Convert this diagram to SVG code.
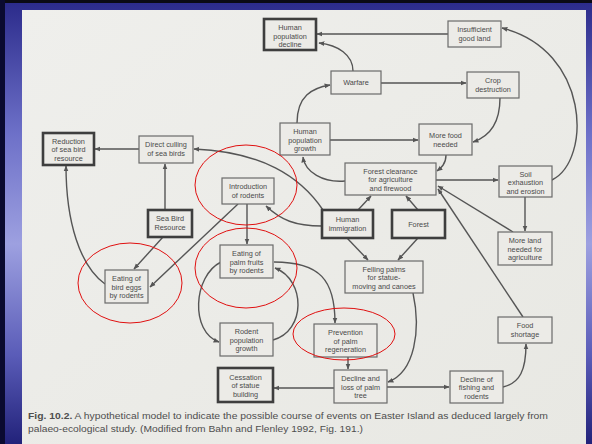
<svg xmlns="http://www.w3.org/2000/svg" width="592" height="444" viewBox="0 0 592 444">
<defs>
<linearGradient id="bg" x1="0" y1="0" x2="0" y2="1">
<stop offset="0" stop-color="#2a2a8a"/>
<stop offset="0.3" stop-color="#6d70c8"/>
<stop offset="0.55" stop-color="#9da0e0"/>
<stop offset="0.8" stop-color="#5a5cb8"/>
<stop offset="1" stop-color="#22227a"/>
</linearGradient>
<linearGradient id="page" x1="0" y1="0" x2="1" y2="1">
<stop offset="0" stop-color="#efefec"/>
<stop offset="1" stop-color="#e8e8e3"/>
</linearGradient>
<marker id="ah" viewBox="0 0 10 10" refX="9" refY="5" markerWidth="6" markerHeight="6" markerUnits="userSpaceOnUse" orient="auto">
<path d="M0,1 L10,5 L0,9 z" fill="#555"/>
</marker>
<style>
.n rect{fill:#ecebe7;stroke:#6a6a6a;stroke-width:1.2}
.n.k rect{stroke:#3e3e3e;stroke-width:2.6}
.n text{font-family:"Liberation Sans",Arial,sans-serif;font-size:7.3px;fill:#4a4a4a;text-anchor:middle}
#edges path{fill:none;stroke:#555;stroke-width:1.4;marker-end:url(#ah)}
.ring{fill:none;stroke:#e01010;stroke-width:1}
.cap{font-family:"Liberation Sans",Arial,sans-serif;font-size:9px;fill:#4e4e4e}
</style>
</defs>
<rect x="0" y="0" width="592" height="444" fill="url(#bg)"/>
<rect x="0" y="0" width="592" height="3" fill="#0a0a14"/>
<rect x="0" y="0" width="5" height="444" fill="#0a0a30"/>
<rect x="22" y="10" width="564" height="434" fill="url(#page)"/>

<g id="edges">
<path d="M448,34 L317,34"/>
<path d="M353,71 C353,55 338,45 319,43"/>
<path d="M381,83 L466,83"/>
<path d="M500,98 C500,124 488,137 473,142"/>
<path d="M297,123 C297,96 312,88 330,85"/>
<path d="M330,140 L418,140"/>
<path d="M446,155 C446,164 441,168 437,171"/>
<path d="M345,181 C323,183 305,172 303,157"/>
<path d="M436,180 L498,180"/>
<path d="M552,180 C592,160 590,50 502,28"/>
<path d="M525,197 L525,231"/>
<path d="M513,232 L438,186"/>
<path d="M523,317 L438,189"/>
<path d="M358,210 L371,196"/>
<path d="M418,210 L406,196"/>
<path d="M347,238 L368,260"/>
<path d="M418,238 L398,260"/>
<path d="M322,226 C295,226 281,220 266,206"/>
<path d="M323,210 C300,176 262,152 194,149"/>
<path d="M139,149 L95,149"/>
<path d="M165,210 L165,164"/>
<path d="M163,237 L134,269"/>
<path d="M238,204 L150,287"/>
<path d="M105,284 C80,266 66,222 66,166"/>
<path d="M247,204 L247,244"/>
<path d="M221,262 C193,276 190,332 219,342"/>
<path d="M273,340 C306,331 306,280 275,268"/>
<path d="M274,262 C320,262 335,280 335,323"/>
<path d="M348,357 L348,369"/>
<path d="M413,293 C421,330 415,372 388,382"/>
<path d="M334,388 L274,388"/>
<path d="M387,387 L449,387"/>
<path d="M503,387 C520,383 526,370 526,344"/>
</g>

<g id="decline" class="n k"><rect x="264" y="19" width="52" height="31"/><text x="290" y="30">Human</text><text x="290" y="38.5">population</text><text x="290" y="47">decline</text></g>
<g id="insufficient" class="n"><rect x="448" y="21" width="53" height="26"/><text x="474.5" y="32">Insufficient</text><text x="474.5" y="41">good land</text></g>
<g id="warfare" class="n"><rect x="331" y="71" width="50" height="23"/><text x="356" y="85">Warfare</text></g>
<g id="crop" class="n"><rect x="467" y="72" width="52" height="26"/><text x="493" y="83">Crop</text><text x="493" y="92">destruction</text></g>
<g id="growth" class="n"><rect x="280" y="123" width="50" height="32"/><text x="305" y="134">Human</text><text x="305" y="142.5">population</text><text x="305" y="151">growth</text></g>
<g id="morefood" class="n"><rect x="419" y="124" width="53" height="31"/><text x="445.5" y="138">More food</text><text x="445.5" y="147">needed</text></g>
<g id="clearance" class="n"><rect x="345" y="163" width="91" height="32"/><text x="390.5" y="173.5">Forest clearance</text><text x="390.5" y="182">for agriculture</text><text x="390.5" y="190.5">and firewood</text></g>
<g id="soil" class="n"><rect x="499" y="166" width="53" height="31"/><text x="525.5" y="176.5">Soil</text><text x="525.5" y="185">exhaustion</text><text x="525.5" y="193.5">and erosion</text></g>
<g id="immigration" class="n k"><rect x="322" y="210" width="51" height="28"/><text x="347.5" y="222">Human</text><text x="347.5" y="231">immigration</text></g>
<g id="forest" class="n k"><rect x="392" y="210" width="53" height="28"/><text x="418.5" y="227">Forest</text></g>
<g id="moreland" class="n"><rect x="498" y="232" width="54" height="33"/><text x="525" y="243">More land</text><text x="525" y="251.5">needed for</text><text x="525" y="260">agriculture</text></g>
<g id="felling" class="n"><rect x="345" y="261" width="78" height="32"/><text x="384" y="271.5">Felling palms</text><text x="384" y="280">for statue-</text><text x="384" y="288.5">moving and canoes</text></g>
<g id="reduction" class="n k"><rect x="43" y="133" width="51" height="32"/><text x="68.5" y="143.5">Reduction</text><text x="68.5" y="152">of sea bird</text><text x="68.5" y="160.5">resource</text></g>
<g id="culling" class="n"><rect x="139" y="136" width="54" height="27"/><text x="166" y="147">Direct culling</text><text x="166" y="156">of sea birds</text></g>
<g id="introduction" class="n"><rect x="222" y="178" width="52" height="26"/><text x="248" y="189">Introduction</text><text x="248" y="198">of rodents</text></g>
<g id="seabird" class="n k"><rect x="148" y="210" width="44" height="27"/><text x="170" y="221">Sea Bird</text><text x="170" y="230">Resource</text></g>
<g id="palmfruits" class="n"><rect x="220" y="245" width="53" height="33"/><text x="246.5" y="256">Eating of</text><text x="246.5" y="264.5">palm fruits</text><text x="246.5" y="273">by rodents</text></g>
<g id="birdeggs" class="n"><rect x="105" y="270" width="43" height="33"/><text x="126.5" y="281">Eating of</text><text x="126.5" y="289.5">bird eggs</text><text x="126.5" y="298">by rodents</text></g>
<g id="rodentgrowth" class="n"><rect x="220" y="323" width="53" height="33"/><text x="246.5" y="334">Rodent</text><text x="246.5" y="342.5">population</text><text x="246.5" y="351">growth</text></g>
<g id="cessation" class="n k"><rect x="218" y="368" width="55" height="34"/><text x="245.5" y="379.5">Cessation</text><text x="245.5" y="388">of statue</text><text x="245.5" y="396.5">building</text></g>
<g id="prevention" class="n"><rect x="314" y="324" width="63" height="33"/><text x="345.5" y="335">Prevention</text><text x="345.5" y="343.5">of palm</text><text x="345.5" y="352">regeneration</text></g>
<g id="declinepalm" class="n"><rect x="334" y="370" width="53" height="33"/><text x="360.5" y="381">Decline and</text><text x="360.5" y="389.5">loss of palm</text><text x="360.5" y="398">tree</text></g>
<g id="declinefish" class="n"><rect x="450" y="371" width="53" height="32"/><text x="476.5" y="381.5">Decline of</text><text x="476.5" y="390">fishing and</text><text x="476.5" y="398.5">rodents</text></g>
<g id="foodshortage" class="n"><rect x="498" y="317" width="54" height="26"/><text x="525" y="328">Food</text><text x="525" y="337">shortage</text></g>

<g id="highlights">
<ellipse class="ring" cx="246" cy="185" rx="51" ry="40"/>
<ellipse class="ring" cx="246" cy="268" rx="51" ry="40"/>
<ellipse class="ring" cx="130" cy="283" rx="52" ry="40"/>
<ellipse class="ring" cx="344" cy="334" rx="51" ry="26"/>
</g>

<text class="cap" x="28" y="419" textLength="520" lengthAdjust="spacingAndGlyphs"><tspan font-weight="bold">Fig. 10.2.</tspan> A hypothetical model to indicate the possible course of events on Easter Island as deduced largely from</text>
<text class="cap" x="28" y="432" textLength="335" lengthAdjust="spacingAndGlyphs">palaeo-ecological study. (Modified from Bahn and Flenley 1992, Fig. 191.)</text>
</svg>
